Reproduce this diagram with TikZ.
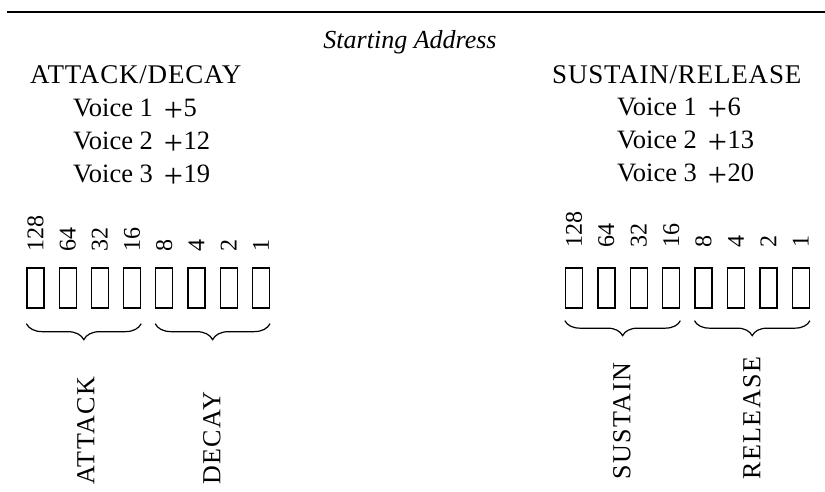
\documentclass[tikz,border=0pt]{standalone}
\usepackage{fontspec}
\setmainfont{Liberation Serif}
\newfontfamily\capsfont[LetterSpace=3]{Liberation Serif}
\newfontfamily\vcapsfont[LetterSpace=6]{Liberation Serif}
\usetikzlibrary{decorations.pathreplacing,calc}
\newcommand\voiceline[2]{Voice #1\hspace{11pt}\raisebox{-5pt}{\fontsize{34}{34}\selectfont+}\hspace{0.5pt}#2}
\tikzset{
  txt/.style={inner sep=0pt, font=\fontsize{26.5}{30}\selectfont},
  capstxt/.style={inner sep=0pt, font=\fontsize{27}{30}\selectfont\capsfont},
  numtxt/.style={inner sep=0pt, font=\fontsize{24}{28}\selectfont, rotate=90, anchor=west},
  bitbox/.style={draw, line width=1.3pt, minimum width=17pt, minimum height=40pt, inner sep=0pt},
  bracel/.style={line width=1.2pt, decorate, decoration={brace, mirror, amplitude=#1}},
  vlabel/.style={inner sep=0pt, font=\fontsize{26}{30}\selectfont\vcapsfont, rotate=90, anchor=west}
}
\begin{document}
\begin{tikzpicture}[x=1pt,y=-1pt]
\useasboundingbox (0,0) rectangle (825,491);
% top rule
\coordinate (ruleL) at (7,12);
\coordinate (ruleR) at (825,12);
\draw[line width=2pt] (ruleL) -- (ruleR);
% title
\node[txt, font=\fontsize{26}{30}\selectfont\itshape, anchor=base] (start) at (410,48) {Starting Address};
% left heading
\node[capstxt, anchor=base west] (ad) at (30,83) {ATTACK/DECAY};
\node[txt, anchor=base west] (lv1) at (73,116) {\voiceline{1}{5}};
\node[txt, anchor=base west] (lv2) at (73,149) {\voiceline{2}{12}};
\node[txt, anchor=base west] (lv3) at (73,182) {\voiceline{3}{19}};
% right heading
\node[capstxt, anchor=base west] (sr) at (552,83) {SUSTAIN/RELEASE};
\node[txt, anchor=base west] (rv1) at (617,115) {\voiceline{1}{6}};
\node[txt, anchor=base west] (rv2) at (617,148) {\voiceline{2}{13}};
\node[txt, anchor=base west] (rv3) at (617,181) {\voiceline{3}{20}};
% bits
\foreach \v [count=\i from 0] in {128,64,32,16,8,4,2,1} {
  \node[bitbox] (L\i) at ({35.5+32.2*\i},288) {};
  \node[numtxt] (nL\i) at ({35.5+32.2*\i},252) {\v};
  \node[bitbox] (R\i) at ({574+32.4*\i},288) {};
  \node[numtxt] (nR\i) at ({574+32.4*\i},248) {\v};
}
% braces
\draw[bracel=16pt] ([yshift=-15pt]L0.south west) -- ([yshift=-15pt]L3.south east);
\draw[bracel=16pt] ([yshift=-15pt]L4.south west) -- ([yshift=-15pt]L7.south east);
\draw[bracel=15pt] ([yshift=-12pt]R0.south west) -- ([yshift=-12pt]R3.south east);
\draw[bracel=15pt] ([yshift=-12pt]R4.south west) -- ([yshift=-12pt]R7.south east);
% field labels
\node[vlabel] (attack) at (86,485) {ATTACK};
\node[vlabel] (decay) at (212,485) {DECAY};
\node[vlabel] (sustain) at (622,480) {SUSTAIN};
\node[vlabel] (release) at (752,480) {RELEASE};
\end{tikzpicture}
\end{document}
